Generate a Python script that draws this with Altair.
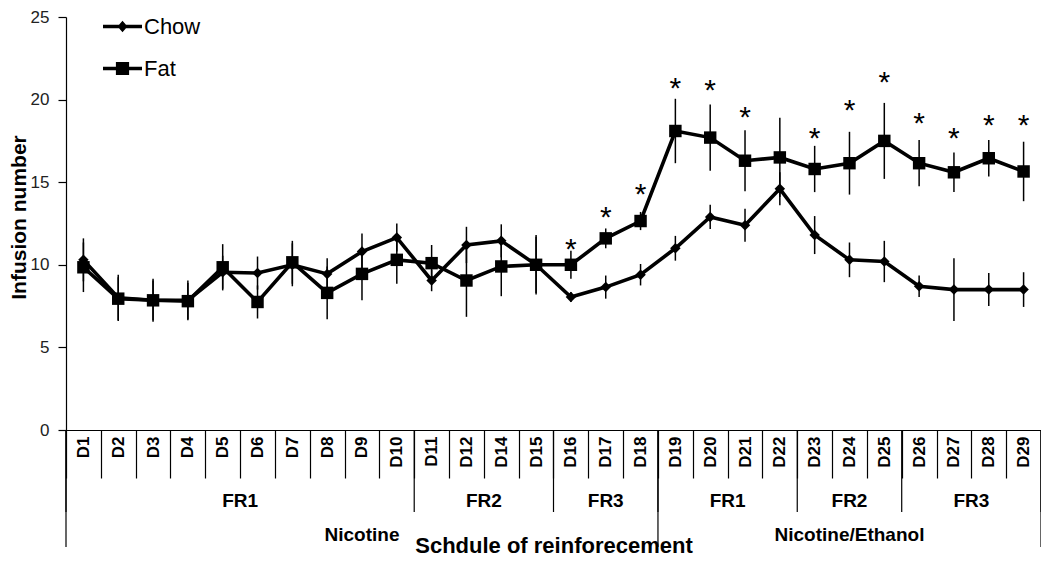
import altair as alt
import pandas as pd

# ---------------- data ----------------
days = ["D1", "D2", "D3", "D4", "D5", "D6", "D7", "D8", "D9", "D10", "D11", "D12",
        "D14", "D15", "D16", "D17", "D18", "D19", "D20", "D21", "D22", "D23", "D24",
        "D25", "D26", "D27", "D28", "D29"]

chow_mean = [10.3, 8.0, 7.85, 7.85, 9.55, 9.5, 10.0, 9.45, 10.8, 11.65, 9.05, 11.2,
             11.45, 10.0, 8.05, 8.65, 9.4, 11.0, 12.9, 12.4, 14.6, 11.8, 10.3, 10.2,
             8.7, 8.5, 8.5, 8.5]
chow_err = [1.3, 1.4, 1.3, 1.2, 1.0, 1.0, 1.3, 0.95, 1.1, 0.85, 0.65, 1.1,
            1.0, 1.8, 0.3, 0.7, 0.65, 0.75, 0.73, 1.0, 1.0, 1.15, 1.05, 1.25,
            0.65, 1.9, 1.0, 1.05]

fat_mean = [9.85, 7.95, 7.85, 7.8, 9.85, 7.75, 10.15, 8.3, 9.45, 10.3, 10.1, 9.05,
            9.9, 10.0, 10.0, 11.6, 12.65, 18.1, 17.7, 16.3, 16.5, 15.8, 16.15, 17.5,
            16.15, 15.6, 16.45, 15.65]
fat_err = [1.5, 1.3, 1.2, 1.1, 1.4, 1.0, 1.3, 1.6, 1.6, 1.45, 1.1, 2.2,
           1.8, 1.7, 0.85, 0.6, 0.55, 1.95, 2.0, 1.85, 2.4, 1.4, 1.9, 2.3,
           1.4, 1.2, 1.1, 1.8]

star_days = ["D16", "D17", "D18", "D19", "D20", "D21", "D23", "D24", "D25", "D26",
             "D27", "D28", "D29"]
star_y = [11.4, 13.3, 14.7, 21.1, 21.0, 19.4, 18.1, 19.8, 21.5, 19.0, 18.1, 18.9, 18.9]

series = ["Chow", "Fat"]

fr_labels = ["FR1", "FR2", "FR3", "FR1", "FR2", "FR3"]
fr_counts = [10, 4, 3, 4, 3, 4]
phase_labels = ["Nicotine", "Nicotine/Ethanol"]
phase_counts = [17, 11]

y_ticks = [0, 5, 10, 15, 20, 25]

# ---------------- tables ----------------
rows = []
for i, d in enumerate(days):
    rows.append(dict(day=d, series="Chow", mean=chow_mean[i],
                     lo=chow_mean[i] - chow_err[i], hi=chow_mean[i] + chow_err[i]))
    rows.append(dict(day=d, series="Fat", mean=fat_mean[i],
                     lo=fat_mean[i] - fat_err[i], hi=fat_mean[i] + fat_err[i]))
df = pd.DataFrame(rows)
stars_df = pd.DataFrame({"day": star_days, "sy": star_y})


def groups(labels, counts):
    bounds, centers = [0], []
    pos = 0
    for c in counts:
        centers.append(pos + c / 2)
        pos += c
        bounds.append(pos)
    return (pd.DataFrame({"pos": bounds}),
            pd.DataFrame({"pos": centers, "label": labels}))


fr_bounds, fr_centers = groups(fr_labels, fr_counts)
ph_bounds, ph_centers = groups(phase_labels, phase_counts)

# ---------------- layout ----------------
W, H = 975, 413
FONT = "Liberation Sans"

x_axis = alt.Axis(
    title="Schdule of reinforecement", titleFont=FONT, titleFontSize=22,
    titleFontWeight="bold", titleColor="black", titleY=122,
    titleBaseline="alphabetic",
    labelAngle=-90, labelFont=FONT, labelFontSize=17, labelFontWeight="bold",
    labelColor="black", labelPadding=-42, tickBand="extent", tickSize=48,
    tickColor="black", tickWidth=1.2, domainColor="black", domainWidth=1.2,
)
xband = alt.X("day:N", sort=days,
              scale=alt.Scale(domain=days, type="band", paddingInner=0, paddingOuter=0),
              axis=x_axis)

y_axis = alt.Axis(
    title="Infusion number", titleFont=FONT, titleFontSize=21, titleFontWeight="bold",
    titleColor="black", titleX=-41, titleY=200, titleBaseline="alphabetic",
    values=y_ticks, grid=False, labelFont=FONT, labelFontSize=17, labelColor="#222",
    labelPadding=9, tickSize=8, tickColor="black", tickWidth=1.2,
    domainColor="black", domainWidth=1.2,
)
yscale = alt.Scale(domain=[0, 25], nice=False, zero=True)

base = alt.Chart(df)

errs = base.mark_rule(color="black", strokeWidth=1.5).encode(
    x=xband,
    y=alt.Y("lo:Q", scale=yscale, axis=y_axis),
    y2="hi:Q",
)

lines = base.mark_line(color="black", strokeWidth=3.6).encode(
    x=xband,
    y=alt.Y("mean:Q", scale=yscale, axis=y_axis),
    detail="series:N",
)

points = base.mark_point(filled=True, color="black", opacity=1).encode(
    x=xband,
    y=alt.Y("mean:Q", scale=yscale, axis=y_axis),
    shape=alt.Shape("series:N", scale=alt.Scale(domain=series, range=["diamond", "square"]),
                    legend=None),
    size=alt.Size("series:N", scale=alt.Scale(domain=series, range=[110, 155]), legend=None),
)

stars = alt.Chart(stars_df).mark_text(
    text="*", font=FONT, fontSize=30, baseline="alphabetic", dy=17, color="black"
).encode(
    x=xband,
    y=alt.Y("sy:Q", scale=yscale, axis=y_axis),
)

main = alt.layer(errs, lines, points, stars)

xq = alt.X("pos:Q", scale=alt.Scale(domain=[0, len(days)], nice=False, zero=False), axis=None)

fr_rules = alt.Chart(fr_bounds).mark_rule(color="black", strokeWidth=1.2).encode(
    x=xq, y=alt.value(H), y2=alt.value(H + 82))
ph_rules = alt.Chart(ph_bounds).mark_rule(color="black", strokeWidth=1.2).encode(
    x=xq, y=alt.value(H), y2=alt.value(H + 117))
fr_text = alt.Chart(fr_centers).mark_text(
    font=FONT, fontSize=19, fontWeight="bold", color="black", baseline="middle"
).encode(x=xq, y=alt.value(H + 71), text="label:N")
ph_text = alt.Chart(ph_centers).mark_text(
    font=FONT, fontSize=19, fontWeight="bold", color="black", baseline="middle"
).encode(x=xq, y=alt.value(H + 105), text="label:N")

deco = alt.layer(fr_rules, ph_rules, fr_text, ph_text)

# legend: line + marker symbols (filled paths)
bar = "M-1.95,-0.17L1.95,-0.17L1.95,0.17L-1.95,0.17Z"
chow_path = bar + "M0,-0.58L0.5,0L0,0.58L-0.5,0Z"
fat_path = bar + "M-0.66,-0.66L0.66,-0.66L0.66,0.66L-0.66,0.66Z"
legend_df = pd.DataFrame({"series": series})
legend_layer = alt.Chart(legend_df).mark_point(filled=True, color="black", clip=True).encode(
    x=alt.value(-300), y=alt.value(-300),
    shape=alt.Shape("series:N",
                    scale=alt.Scale(domain=series, range=[chow_path, fat_path]),
                    legend=alt.Legend(
                        title=None, orient="none", legendX=45.5, legendY=-1.5,
                        symbolSize=400, symbolFillColor="black", symbolStrokeColor="black",
                        symbolStrokeWidth=0, symbolOpacity=1, labelFont=FONT,
                        labelFontSize=22, labelColor="black", labelOffset=10.5,
                        rowPadding=20)),
)

chart = alt.layer(main, deco, legend_layer).resolve_scale(
    x="independent", shape="independent"
).properties(
    width=W, height=H,
    autosize=alt.AutoSizeParams(type="none"),
    padding={"left": 58, "top": 9, "right": 0, "bottom": 127},
).configure_view(strokeWidth=0)

chart.save("out.html", embed_options={"renderer": "svg", "actions": False})
